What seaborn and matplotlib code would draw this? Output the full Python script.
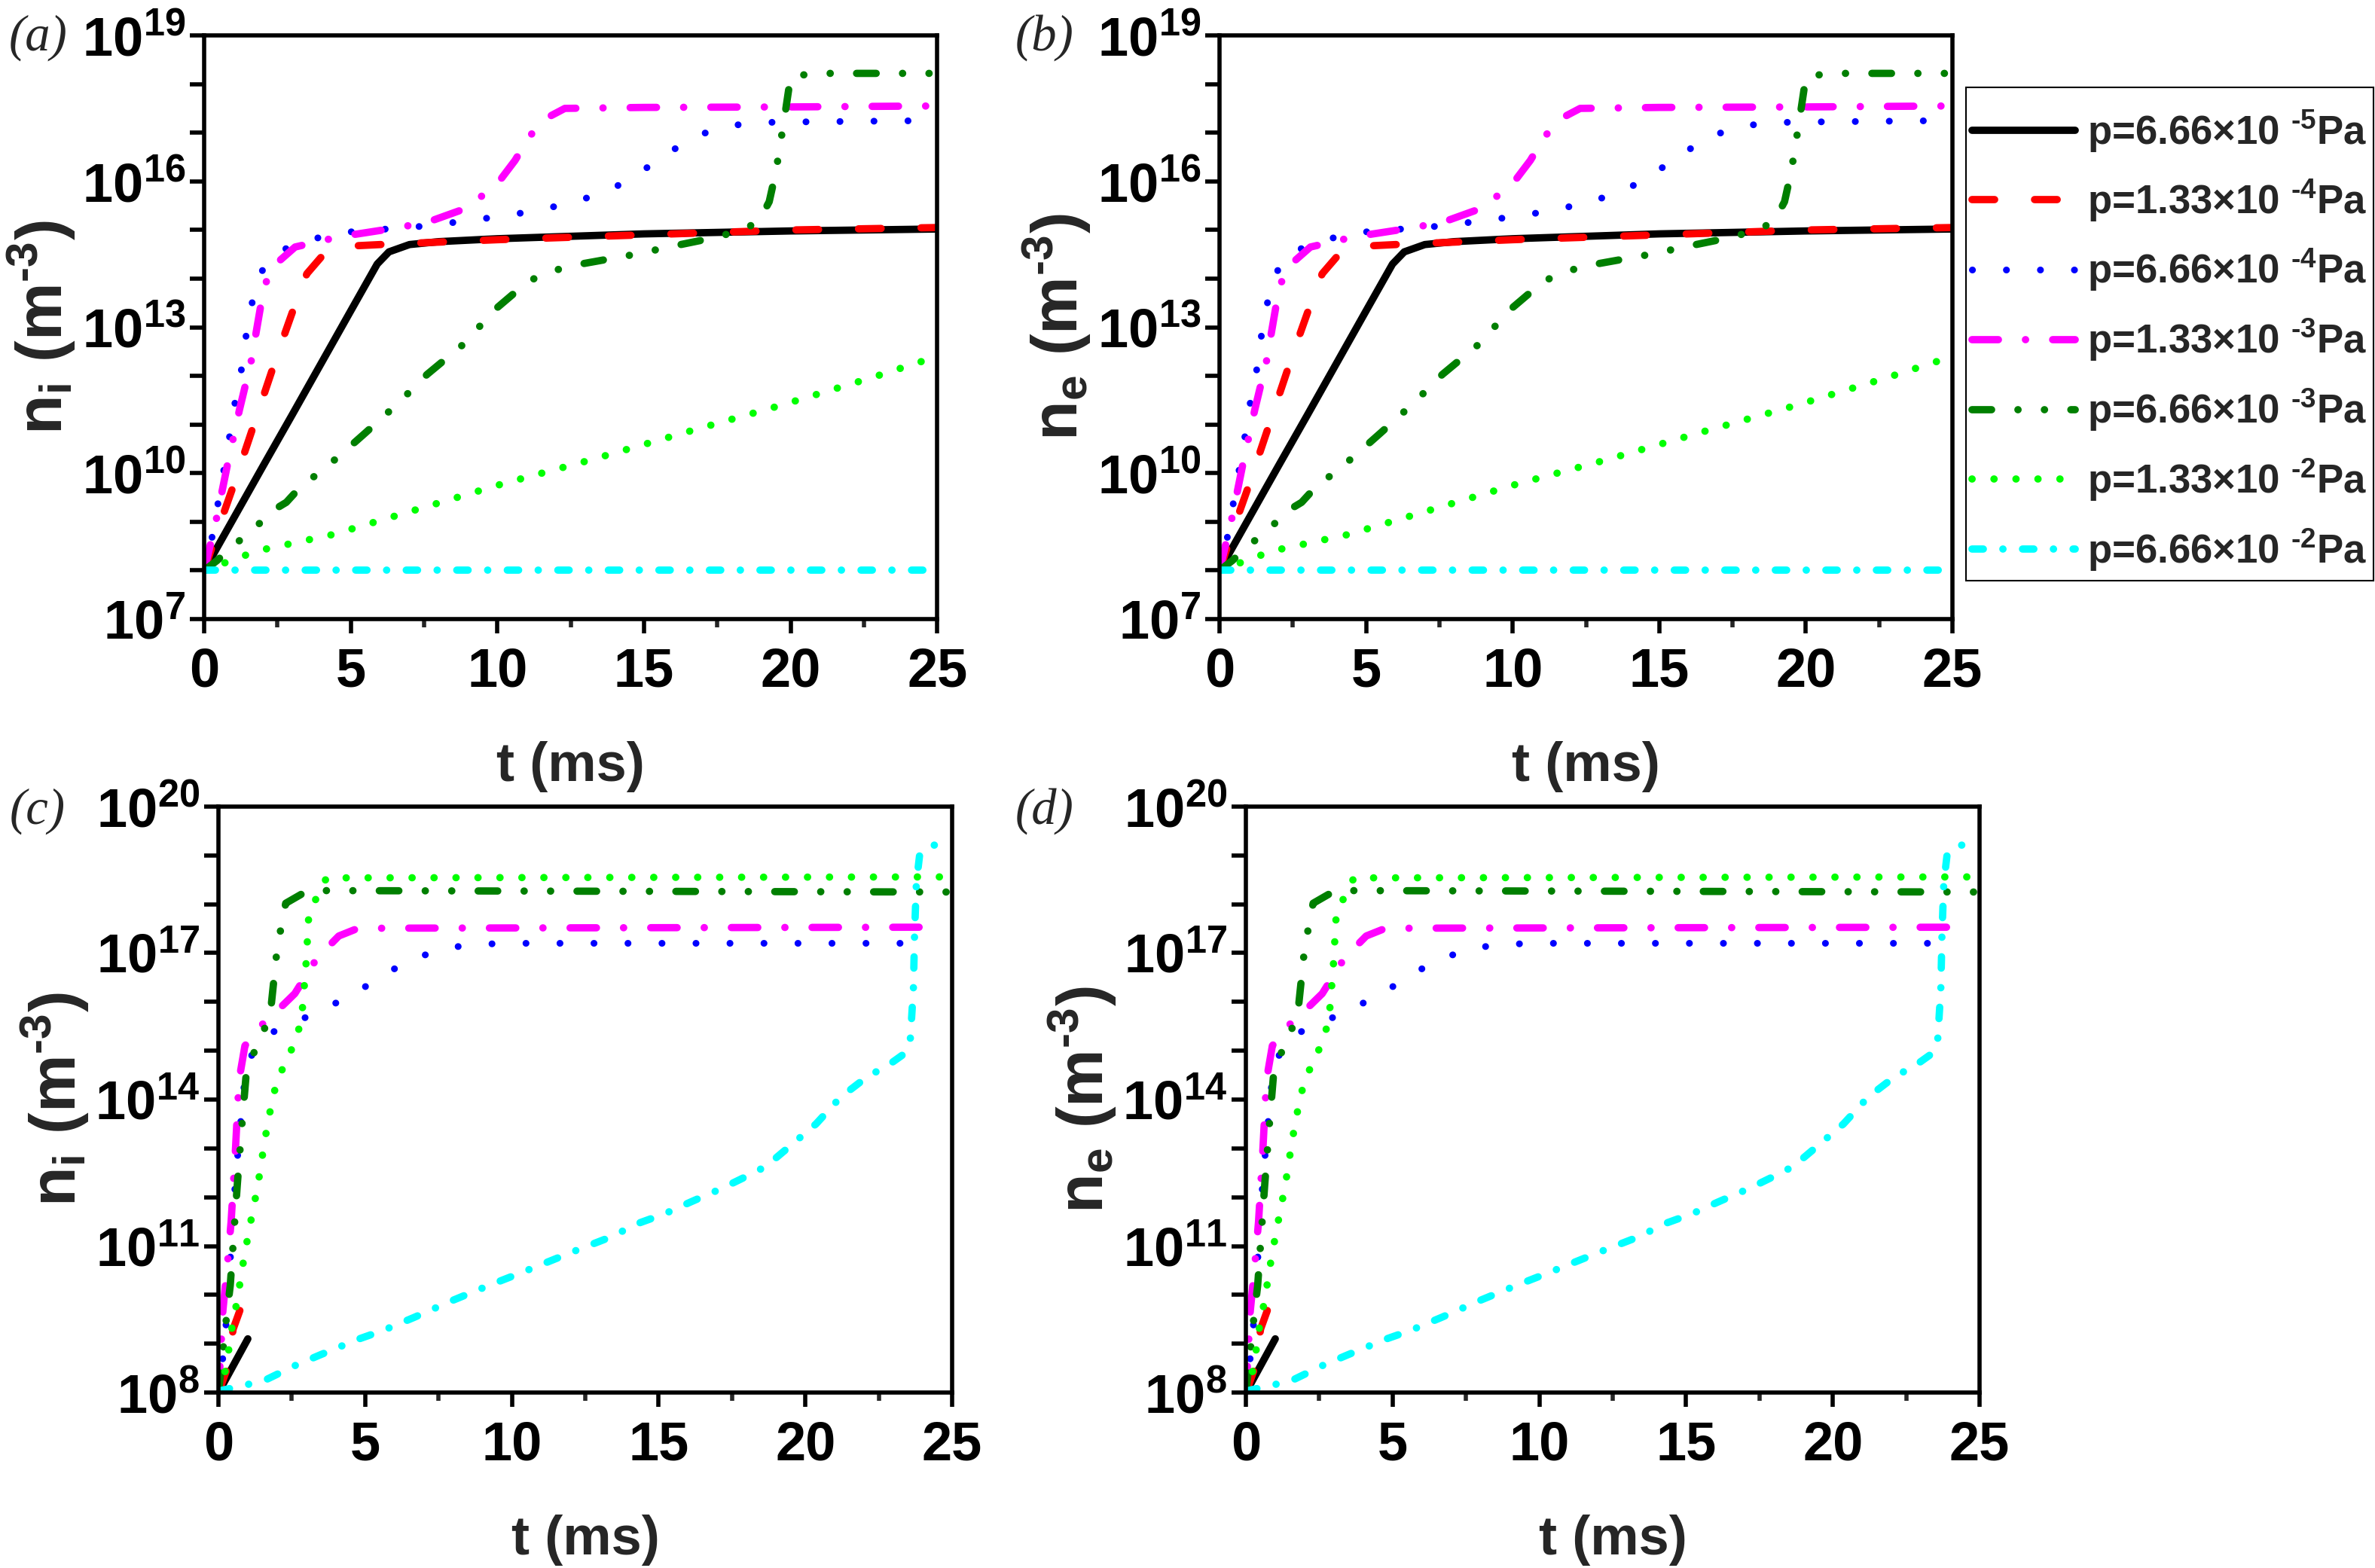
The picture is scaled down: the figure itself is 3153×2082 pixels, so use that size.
import numpy as np
import seaborn as sns
import matplotlib
matplotlib.use('Agg')
import matplotlib.pyplot as plt
from matplotlib.patches import Rectangle
from matplotlib.ticker import LogLocator, FuncFormatter, MultipleLocator, NullLocator

# legend labels, colours
labels = ['p=6.66×10 $^{\\text{-5}}$Pa', 'p=1.33×10 $^{\\text{-4}}$Pa', 'p=6.66×10 $^{\\text{-4}}$Pa',
          'p=1.33×10 $^{\\text{-3}}$Pa', 'p=6.66×10 $^{\\text{-3}}$Pa', 'p=1.33×10 $^{\\text{-2}}$Pa',
          'p=6.66×10 $^{\\text{-2}}$Pa']
colors = ['#000000', '#FF0000', '#0000FF', '#FF00FF', '#007F00', '#00FF00', '#00FFFF']

# ---- top panels (a),(b): log10 of density vs t (ms)
t_top_1 = [0, 1, 2, 3, 4, 5, 5.9, 6.3, 7, 8, 10, 15, 20, 25]
lg_top_1 = [8.0, 9.07, 10.14, 11.2, 12.27, 13.34, 14.3, 14.55, 14.7, 14.76, 14.82, 14.92, 14.98, 15.02]

t_top_2 = [0, 0.5, 1, 1.5, 2, 2.5, 3, 3.5, 4, 4.5, 5, 6, 8, 10, 15, 20, 25]
lg_top_2 = [8.0, 8.9, 9.75, 10.65, 11.55, 12.45, 13.3, 14.1, 14.45, 14.6, 14.67, 14.7, 14.75, 14.8, 14.9, 15.0, 15.05]

t_top_3 = [0, 0.32, 0.54, 0.8, 1.0, 1.26, 1.46, 1.73, 2.16, 3.15, 4.17, 5.2, 6.5, 7.7, 8.7, 10.0,
           11.05, 12.1, 13.06, 14.1, 15.0, 16.0, 16.95, 18.0, 19.0, 20, 25]
lg_top_3 = [8.0, 8.82, 9.65, 10.5, 11.3, 12.1, 12.97, 13.8, 14.42, 14.73, 14.88, 14.98, 15.03, 15.09,
            15.17, 15.27, 15.37, 15.5, 15.66, 15.91, 16.24, 16.65, 16.97, 17.15, 17.21, 17.22, 17.25]

t_top_4 = [0, 0.43, 0.8, 1.2, 1.6, 2.0, 2.25, 3.1, 4.6, 6.75, 7.8, 9.0, 10.06, 10.6, 11.1, 11.67,
           12.3, 15, 20, 25]
lg_top_4 = [8.0, 9.1, 10.2, 11.3, 12.3, 13.7, 14.2, 14.65, 14.86, 15.06, 15.2, 15.46, 16.0, 16.43,
            16.93, 17.3, 17.5, 17.52, 17.53, 17.55]

t_top_5 = [0, 0.43, 1.07, 1.7, 2.25, 2.8, 3.3, 3.9, 4.6, 5.5, 6.6, 7.6, 8.9, 9.85, 11.0, 11.67,
           12.85, 14.7, 16.17, 17.3, 18.0, 18.5, 18.95, 19.27, 19.5, 19.8, 20.0, 20.8, 25]
lg_top_5 = [8.0, 8.2, 8.55, 8.85, 9.2, 9.4, 9.73, 10.0, 10.35, 10.83, 11.43, 12.03, 12.68, 13.33,
            13.92, 14.13, 14.3, 14.5, 14.69, 14.83, 14.94, 15.03, 15.22, 15.58, 16.2, 17.34, 18.15,
            18.22, 18.22]

t_top_6 = [0, 0.54, 1.8, 4.4, 6.74, 10.17, 13.17, 16.6, 19.7, 22.8, 25]
lg_top_6 = [8.0, 8.12, 8.4, 8.74, 9.16, 9.78, 10.27, 10.87, 11.4, 11.97, 12.4]

t_top_7 = [0, 25]
lg_top_7 = [8.0, 8.0]

# ---- bottom panels (c),(d)
t_bot_1 = [0, 1.0]
lg_bot_1 = [8.0, 9.1]

t_bot_2 = [0, 0.3, 0.5, 0.8]
lg_bot_2 = [8.0, 8.5, 9.3, 9.8]

t_bot_3 = [0, 0.17, 0.3, 0.38, 0.47, 0.56, 0.68, 0.81, 0.94, 1.54, 2.57, 3.53, 4.49, 5.45, 6.39,
           7.4, 8.38, 9.67, 15, 20, 23.85]
lg_bot_3 = [8.0, 8.82, 9.68, 10.52, 11.36, 12.2, 13.05, 13.88, 14.72, 15.3, 15.57, 15.84, 16.12,
            16.48, 16.82, 17.04, 17.16, 17.2, 17.2, 17.2, 17.2]

t_bot_4 = [0, 0.15, 0.3, 0.43, 0.58, 0.7, 0.9, 1.33, 1.97, 2.6, 3.36, 4.1, 4.64, 5.6, 24.3]
lg_bot_4 = [8.0, 9.68, 10.6, 11.5, 13.0, 14.4, 15.1, 15.45, 15.8, 16.17, 16.9, 17.35, 17.48, 17.51, 17.53]

t_bot_5 = [0, 0.26, 0.4, 0.64, 0.8, 0.94, 1.22, 1.58, 1.8, 1.97, 2.12, 2.29, 3.04, 25]
lg_bot_5 = [8.0, 9.47, 10.19, 12.25, 13.49, 14.5, 14.98, 15.47, 15.95, 16.93, 17.49, 18.02, 18.28, 18.25]

t_bot_6 = [0, 0.26, 0.45, 0.64, 0.88, 1.18, 1.33, 1.58, 1.86, 2.12, 2.46, 2.74, 2.87, 2.99, 3.08, 3.68, 25]
lg_bot_6 = [8.0, 8.5, 9.3, 9.9, 10.8, 11.76, 12.2, 13.18, 14.09, 14.55, 14.98, 15.45, 15.91, 16.84,
            17.82, 18.54, 18.56]

t_bot_7 = [0, 1.54, 2.6, 3.46, 4.75, 5.6, 6.67, 7.95, 9.24, 10.3, 11.16, 12.23, 13.3, 14.37, 15.2,
           16.08, 17.15, 18.0, 18.65, 19.5, 20.36, 21.2, 22.07, 22.93, 23.35, 23.57, 23.68, 23.72,
           23.78, 23.9, 24.3, 25]
lg_bot_7 = [8.03, 8.24, 8.55, 8.77, 9.09, 9.27, 9.54, 9.88, 10.2, 10.45, 10.66, 10.92, 11.17, 11.48,
            11.66, 11.9, 12.18, 12.43, 12.63, 13.06, 13.5, 14.05, 14.45, 14.75, 14.93, 15.19, 16.27,
            17.4, 18.43, 19.05, 19.2, 19.28]

top_series = [(t_top_1, lg_top_1), (t_top_2, lg_top_2), (t_top_3, lg_top_3), (t_top_4, lg_top_4),
              (t_top_5, lg_top_5), (t_top_6, lg_top_6), (t_top_7, lg_top_7)]
bot_series = [(t_bot_1, lg_bot_1), (t_bot_2, lg_bot_2), (t_bot_3, lg_bot_3), (t_bot_4, lg_bot_4),
              (t_bot_5, lg_bot_5), (t_bot_6, lg_bot_6), (t_bot_7, lg_bot_7)]

# line styles, dash lengths in points (not scaled by linewidth)
styles = ['-', (0, (21.6, 38.2)), (0, (0.1, 32.4)), (0, (25.2, 25.9, 0.1, 25.9)),
          (0, (18.7, 25.2, 0.1, 25.2, 0.1, 25.2)), (0, (0.1, 20.9)), (0, (10.8, 18.7, 0.1, 18.7))]
widths = [7.0, 7.0, 6.5, 7.0, 7.0, 7.0, 7.0]

sns.set_style("ticks")
plt.rcParams['font.family'] = ['Liberation Sans', 'DejaVu Sans']
plt.rcParams['font.weight'] = 'bold'
plt.rcParams['mathtext.fontset'] = 'custom'
plt.rcParams['mathtext.rm'] = 'Liberation Sans:bold'
plt.rcParams['mathtext.bf'] = 'Liberation Sans:bold'
plt.rcParams['mathtext.it'] = 'Liberation Sans:bold'
plt.rcParams['mathtext.default'] = 'bf'
plt.rcParams['lines.dash_capstyle'] = 'round'
plt.rcParams['lines.solid_capstyle'] = 'round'
plt.rcParams['lines.scale_dashes'] = False

fig = plt.figure(figsize=(31.53, 20.82), dpi=100)
ax_a = fig.add_axes([0.0860, 0.6052, 0.3086, 0.3722])
ax_b = fig.add_axes([0.5135, 0.6052, 0.3086, 0.3722])
ax_c = fig.add_axes([0.0920, 0.1119, 0.3089, 0.3737])
ax_d = fig.add_axes([0.5246, 0.1119, 0.3089, 0.3737])


def draw(ax, series, ylo, yhi, ylab, lab_mod):
    for i, (t, lg) in enumerate(series):
        sns.lineplot(x=t, y=10 ** np.array(lg), ax=ax, color=colors[i], linestyle=styles[i],
                     lw=widths[i], estimator=None, sort=False, label=labels[i], legend=False)
    ax.set_yscale('log')
    ax.set_xlim(0, 25)
    ax.set_ylim(10.0 ** ylo, 10.0 ** yhi)
    ax.yaxis.set_major_locator(LogLocator(base=10, numticks=30))
    ax.yaxis.set_minor_locator(NullLocator())
    ax.yaxis.set_major_formatter(FuncFormatter(
        lambda v, p: '$10^{%d}$' % round(np.log10(v)) if round(np.log10(v)) % 3 == lab_mod else ''))
    ax.xaxis.set_major_locator(MultipleLocator(5))
    ax.xaxis.set_minor_locator(MultipleLocator(2.5))
    for s in ax.spines.values():
        s.set_linewidth(4)
        s.set_color('black')
    ax.tick_params(axis='both', which='major', direction='out', length=14, width=4,
                   labelsize=52, pad=4, colors='black')
    ax.tick_params(axis='x', which='minor', direction='out', length=8, width=4)
    ax.tick_params(axis='x', which='major', pad=12)
    ax.set_xlabel('t (ms)', fontsize=52, fontweight='bold', labelpad=42)
    ax.set_ylabel(ylab, fontsize=62, fontweight='bold', labelpad=4)


ylab_i = 'n$_\\mathbf{i}$ (m$^{\\text{-3}}$)'
ylab_e = 'n$_\\mathbf{e}$ (m$^{\\text{-3}}$)'
draw(ax_a, top_series, 7, 19, ylab_i, 1)
draw(ax_b, top_series, 7, 19, ylab_e, 1)
draw(ax_c, bot_series, 8, 20, ylab_i, 2)
draw(ax_d, bot_series, 8, 20, ylab_e, 2)

for txt, x, y in [('(a)', 0.0159, 0.976), ('(b)', 0.4399, 0.976),
                  ('(c)', 0.0159, 0.4827), ('(d)', 0.4399, 0.4827)]:
    fig.text(x, y, txt, fontsize=48, family='Liberation Serif', style='italic',
             fontweight='normal', ha='center', va='center')

# legend at the right of panel (b), with its own frame box
handles, labs = ax_b.get_legend_handles_labels()
leg = fig.legend(handles, labs, loc='upper left', bbox_to_anchor=(0.8278, 0.9347),
                 bbox_transform=fig.transFigure, borderaxespad=0, fontsize=38,
                 handlelength=2.6, handletextpad=0.3, borderpad=0.15, labelspacing=0.6,
                 frameon=False)
fig.patches.append(Rectangle((0.8278, 0.6297), 0.1716, 0.3146, transform=fig.transFigure,
                             fill=False, edgecolor='black', linewidth=1.5))

fig.savefig('out.png', dpi=100, facecolor='white')
